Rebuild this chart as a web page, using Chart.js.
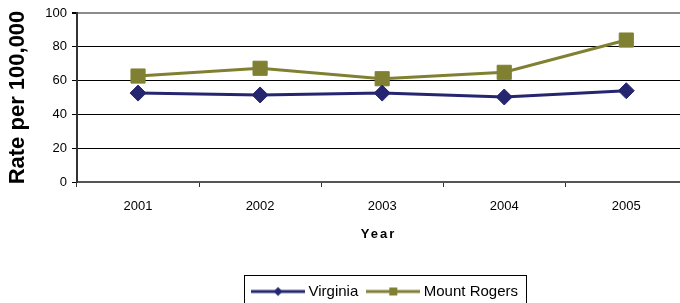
<!DOCTYPE html>
<html>
<head>
<meta charset="utf-8">
<script src="https://cdn.jsdelivr.net/npm/chart.js@4/dist/chart.umd.min.js"></script>
<style>
  html, body { margin: 0; padding: 0; background: #fff; }
  #wrap { width: 680px; height: 303px; position: relative; }
</style>
</head>
<body>
<div id="wrap"><canvas id="myChart"></canvas></div>
<script>
// data
var years = [2001, 2002, 2003, 2004, 2005];
var virginia = [52.6, 51.5, 52.6, 50.3, 54.0];
var mountRogers = [62.7, 67.3, 61.1, 64.9, 84.0];
var yTicks = [0, 20, 40, 60, 80, 100];

var navy = '#262670';
var olive = '#808033';

Chart.defaults.font.family = "'Liberation Sans', Arial, sans-serif";
Chart.defaults.color = '#000';

// small line + marker picture used as the legend symbol
function legendMark(color, shape) {
    var c = document.createElement('canvas');
    c.width = 54;
    c.height = 12;
    var g = c.getContext('2d');
    g.strokeStyle = color;
    g.lineWidth = 3;
    g.beginPath();
    g.moveTo(0, 6);
    g.lineTo(54, 6);
    g.stroke();
    g.fillStyle = color;
    if (shape === 'diamond') {
        g.beginPath();
        g.moveTo(27, 1.5);
        g.lineTo(31.5, 6);
        g.lineTo(27, 10.5);
        g.lineTo(22.5, 6);
        g.closePath();
        g.fill();
    } else {
        g.fillRect(23, 2, 8, 8);
    }
    return c;
}
var marks = [legendMark(navy, 'diamond'), legendMark(olive, 'square')];

// box round the legend, and nudge legend a bit right like the original
var legendFrame = {
    id: 'legendFrame',
    afterLayout: function (chart) {
        chart.legend.left += 8;
        chart.legend.right += 8;
    },
    afterDraw: function (chart) {
        var lg = chart.legend;
        var hb = lg.legendHitBoxes;
        if (!hb || !hb.length) return;
        var first = hb[0], last = hb[hb.length - 1];
        var left = Math.round(first.left - 11);
        var right = Math.round(last.left + last.width + 8);
        var ctx = chart.ctx;
        ctx.save();
        ctx.strokeStyle = '#000';
        ctx.lineWidth = 1;
        ctx.strokeRect(left + 0.5, Math.round(lg.top) + 3.5, right - left, 40);
        ctx.restore();
    }
};

// spaced out letters for the "Year" title
var spacedTitle = {
    id: 'spacedTitle',
    afterLayout: function (chart) {
        var s = chart.scales.x;
        if (s._spaced) return;
        var orig = s.drawTitle;
        s.drawTitle = function () {
            var ctx = this.ctx;
            ctx.save();
            ctx.letterSpacing = '2px';
            orig.apply(this, arguments);
            ctx.restore();
        };
        s._spaced = true;
    }
};

var chart = new Chart('myChart', {
    type: 'line',
    data: {
        labels: years,
        datasets: [{
            label: 'Virginia',
            data: virginia,
            borderColor: navy,
            backgroundColor: navy,
            borderWidth: 3,
            pointStyle: 'rectRot',
            pointRadius: 8,
            pointBorderWidth: 1,
            tension: 0
        }, {
            label: 'Mount Rogers',
            data: mountRogers,
            borderColor: olive,
            backgroundColor: olive,
            borderWidth: 3,
            pointStyle: 'rect',
            pointRadius: 10,
            pointBorderWidth: 1,
            tension: 0
        }]
    },
    options: {
        responsive: true,
        maintainAspectRatio: false,
        animation: false,
        devicePixelRatio: 1,
        layout: { autoPadding: false, padding: { top: 13, left: 0, right: 0, bottom: -6 } },
        scales: {
            x: {
                type: 'linear',
                min: 2000.5,
                max: 2005.44,
                afterBuildTicks: function (s) { s.ticks = years.map(function (v) { return { value: v }; }); },
                afterFit: function (s) {
                    s.height = 90;
                    s.paddingLeft = 0;
                    s.paddingRight = 0;
                },
                grid: { drawOnChartArea: false, offset: true, tickLength: 5, color: '#333', lineWidth: 1 },
                border: { color: '#555', width: 2 },
                ticks: {
                    callback: function (v) { return String(v); },
                    font: { size: 13 },
                    color: '#000',
                    padding: 12,
                    maxRotation: 0,
                    autoSkip: false
                },
                title: {
                    display: true,
                    text: 'Year',
                    font: { size: 13, weight: 'bold' },
                    color: '#000',
                    padding: { top: 4, bottom: 30 }
                }
            },
            y: {
                min: 0,
                max: 100,
                afterBuildTicks: function (s) { s.ticks = yTicks.map(function (v) { return { value: v }; }); },
                afterFit: function (s) {
                    s.width = 77;
                    s.paddingTop = 0;
                    s.paddingBottom = 0;
                },
                grid: {
                    color: function (c) { return c.tick && c.tick.value === 100 ? '#8c8c8c' : '#000'; },
                    lineWidth: function (c) { return c.tick && c.tick.value === 100 ? 2 : 1; },
                    tickColor: '#000',
                    tickLength: 5
                },
                border: { color: '#333', width: 2 },
                ticks: { font: { size: 13 }, color: '#000', padding: 5 },
                title: {
                    display: true,
                    text: 'Rate per 100,000',
                    font: { size: 22, weight: 'bold' },
                    color: '#000',
                    padding: { top: 5, bottom: 0 }
                }
            }
        },
        plugins: {
            tooltip: { enabled: false },
            legend: {
                position: 'bottom',
                fullSize: false,
                labels: {
                    usePointStyle: true,
                    pointStyleWidth: 46,
                    font: { size: 15 },
                    color: '#000',
                    padding: 12,
                    generateLabels: function (chart) {
                        return chart.data.datasets.map(function (ds, i) {
                            return {
                                text: ds.label,
                                pointStyle: marks[i],
                                fillStyle: ds.borderColor,
                                strokeStyle: ds.borderColor,
                                lineWidth: 0,
                                hidden: false,
                                datasetIndex: i
                            };
                        });
                    }
                }
            }
        }
    },
    plugins: [legendFrame, spacedTitle]
});
</script>
</body>
</html>
